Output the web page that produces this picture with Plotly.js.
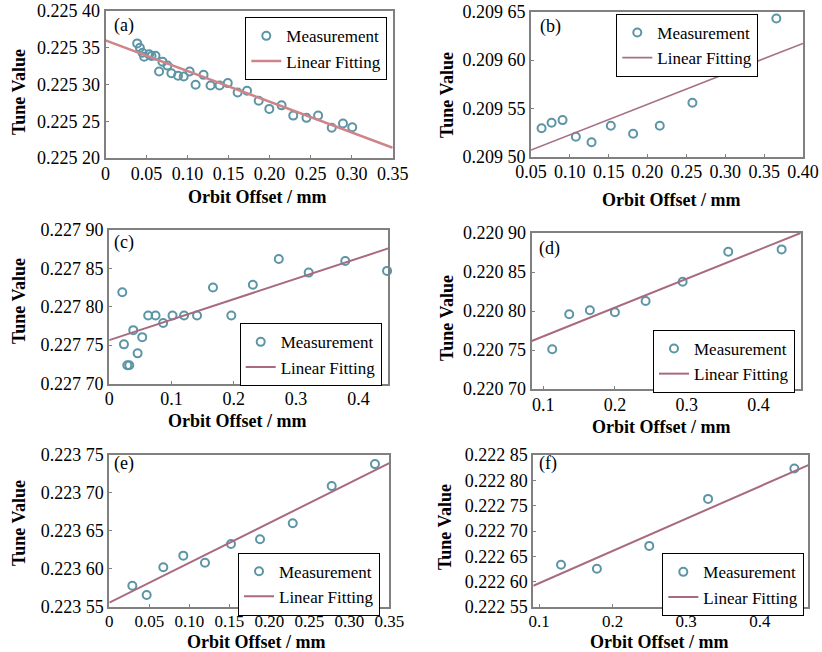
<!DOCTYPE html>
<html>
<head>
<meta charset="utf-8">
<script src="https://cdn.plot.ly/plotly-3.0.1.min.js"></script>
<style>
html,body{margin:0;padding:0;background:#fff;}
#chart{width:822px;height:652px;}
</style>
</head>
<body>
<div id="chart"></div>
<script>
// ---------- DATA ----------
// (a)
const aX = [0.0386,0.0419,0.0451,0.0471,0.0532,0.0561,0.0609,0.0653,0.0694,0.0755,0.0803,0.0884,0.0953,0.1025,0.1098,0.1195,0.1280,0.1390,0.1490,0.1610,0.1725,0.1867,0.1996,0.2146,0.2288,0.2449,0.2591,0.2757,0.2894,0.3007];
const aY = [0.2253559,0.2253500,0.2253432,0.2253378,0.2253410,0.2253388,0.2253392,0.2253176,0.2253311,0.2253257,0.2253154,0.2253118,0.2253108,0.2253176,0.2252996,0.2253131,0.2252986,0.2252986,0.2253019,0.2252892,0.2252915,0.2252780,0.2252668,0.2252716,0.2252577,0.2252546,0.2252577,0.2252411,0.2252469,0.2252419];
const aFitX = [0, 0.35];
const aFitY = [0.2253600, 0.2252140];
// (b)
const bX = [0.0636,0.0765,0.0906,0.1077,0.1279,0.1527,0.1814,0.2157,0.2577,0.3069,0.3657];
const bY = [0.2095293,0.2095350,0.2095378,0.2095206,0.2095148,0.2095320,0.2095237,0.2095320,0.2095557,0.2095906,0.2096430];
const bFitX = [0.05, 0.40];
const bFitY = [0.2095068, 0.2096172];
// (c)
const cX = [0.0210,0.0237,0.0290,0.0322,0.0386,0.0456,0.0530,0.0626,0.0744,0.0866,0.1016,0.1202,0.1410,0.1666,0.1960,0.2306,0.2722,0.3202,0.3789,0.4460];
const cY = [0.2278190,0.2277510,0.2277238,0.2277238,0.2277695,0.2277393,0.2277604,0.2277885,0.2277885,0.2277789,0.2277885,0.2277885,0.2277885,0.2278251,0.2277885,0.2278286,0.2278622,0.2278445,0.2278596,0.2278467];
const cFitX = [0, 0.448];
const cFitY = [0.2277565, 0.2278760];
// (d)
const dX = [0.1126,0.1363,0.1651,0.2000,0.2428,0.2944,0.3580,0.4324];
const dY = [0.2207509,0.2207958,0.2208009,0.2207983,0.2208128,0.2208376,0.2208760,0.2208790];
const dFitX = [0.084, 0.459];
const dFitY = [0.2207615, 0.2209000];
// (e)
const eX = [0.0288,0.0467,0.0675,0.0925,0.1196,0.1521,0.1884,0.2293,0.2780,0.3321];
const eY = [0.2235777,0.2235654,0.2236020,0.2236173,0.2236080,0.2236327,0.2236389,0.2236600,0.2237092,0.2237380];
const eFitX = [0, 0.35];
const eFitY = [0.2235553, 0.2237392];
// (f)
const fX = [0.1297,0.1785,0.2497,0.3297,0.4470];
const fY = [0.2226334,0.2226254,0.2226706,0.2227634,0.2228234];
const fFitX = [0.092, 0.466];
const fFitY = [0.2225920, 0.2228300];

// tick labels
const aYTickVals = [0.22520,0.22525,0.22530,0.22535,0.22540];
const aYTickText = ['0.225 20','0.225 25','0.225 30','0.225 35','0.225 40'];
const aXTickVals = [0,0.05,0.10,0.15,0.20,0.25,0.30,0.35];
const aXTickText = ['0','0.05','0.10','0.15','0.20','0.25','0.30','0.35'];
const bYTickVals = [0.20950,0.20955,0.20960,0.20965];
const bYTickText = ['0.209 50','0.209 55','0.209 60','0.209 65'];
const bXTickVals = [0.05,0.10,0.15,0.20,0.25,0.30,0.35,0.40];
const bXTickText = ['0.05','0.10','0.15','0.20','0.25','0.30','0.35','0.40'];
const cYTickVals = [0.22770,0.22775,0.22780,0.22785,0.22790];
const cYTickText = ['0.227 70','0.227 75','0.227 80','0.227 85','0.227 90'];
const cXTickVals = [0,0.1,0.2,0.3,0.4];
const cXTickText = ['0','0.1','0.2','0.3','0.4'];
const dYTickVals = [0.22070,0.22075,0.22080,0.22085,0.22090];
const dYTickText = ['0.220 70','0.220 75','0.220 80','0.220 85','0.220 90'];
const dXTickVals = [0.1,0.2,0.3,0.4];
const dXTickText = ['0.1','0.2','0.3','0.4'];
const eYTickVals = [0.22355,0.22360,0.22365,0.22370,0.22375];
const eYTickText = ['0.223 55','0.223 60','0.223 65','0.223 70','0.223 75'];
const eXTickVals = [0,0.05,0.10,0.15,0.20,0.25,0.30,0.35];
const eXTickText = ['0','0.05','0.10','0.15','0.20','0.25','0.30','0.35'];
const fYTickVals = [0.22255,0.22260,0.22265,0.22270,0.22275,0.22280,0.22285];
const fYTickText = ['0.222 55','0.222 60','0.222 65','0.222 70','0.222 75','0.222 80','0.222 85'];
const fXTickVals = [0.1,0.2,0.3,0.4];
const fXTickText = ['0.1','0.2','0.3','0.4'];

const panelLabels = ['(a)','(b)','(c)','(d)','(e)','(f)'];
const seriesNames = ['Measurement','Linear Fitting'];
const xTitle = 'Orbit Offset / mm';
const yTitle = 'Tune Value';

// ---------- LAYOUT CONFIG ----------
const W = 822, H = 652;
const FONT = 'Liberation Serif';
const panels = [
  {x:aX,y:aY,fx:aFitX,fy:aFitY,xr:[0,0.35],yr:[0.22520,0.22540],xtv:aXTickVals,xtt:aXTickText,ytv:aYTickVals,ytt:aYTickText,
   box:[105.5,11,392.7,158], leg:[387.3,17.3], lab:[112,25], lc:'#cf8489', lw:2.5, xt:[257,197], yt:[19,92], xfs:18},
  {x:bX,y:bY,fx:bFitX,fy:bFitY,xr:[0.05,0.40],yr:[0.20950,0.20965],xtv:bXTickVals,xtt:bXTickText,ytv:bYTickVals,ytt:bYTickText,
   box:[531,11.7,803,156.6], leg:[758.3,14], lab:[538,27], lc:'#a66f85', lw:1.6, xt:[671,200], yt:[447,95], xfs:18},
  {x:cX,y:cY,fx:cFitX,fy:cFitY,xr:[0,0.448],yr:[0.22770,0.22790],xtv:cXTickVals,xtt:cXTickText,ytv:cYTickVals,ytt:cYTickText,
   box:[109.2,230,388.3,383.5], leg:[381.7,323.3], lab:[112,243], lc:'#a86a7e', lw:2, xt:[237,421], yt:[19,301], xfs:18},
  {x:dX,y:dY,fx:dFitX,fy:dFitY,xr:[0.084,0.459],yr:[0.22070,0.22090],xtv:dXTickVals,xtt:dXTickText,ytv:dYTickVals,ytt:dYTickText,
   box:[531.7,233,800.7,389], leg:[795,330], lab:[537,248], lc:'#a86a7e', lw:2, xt:[661,427], yt:[447,318], xfs:18},
  {x:eX,y:eY,fx:eFitX,fy:eFitY,xr:[0,0.35],yr:[0.22355,0.22375],xtv:eXTickVals,xtt:eXTickText,ytv:eYTickVals,ytt:eYTickText,
   box:[109.3,455,389.3,606.7], leg:[380,552.7], lab:[112,463], lc:'#a86a7e', lw:2, xt:[256,642], yt:[19,523], xfs:17},
  {x:fX,y:fY,fx:fFitX,fy:fFitY,xr:[0.092,0.466],yr:[0.22255,0.22285],xtv:fXTickVals,xtt:fXTickText,ytv:fYTickVals,ytt:fYTickText,
   box:[533.3,455,808.3,607], leg:[804.3,553.3], lab:[537,463], lc:'#a86a7e', lw:2, xt:[659,642], yt:[445,527], xfs:17}
];

const MCOL = '#5b95a6';
const traces = [];
const layout = {
  width: W, height: H,
  margin: {l:0,r:0,t:0,b:0},
  paper_bgcolor: '#fff', plot_bgcolor: '#fff',
  font: {family: FONT, size: 18, color: '#000'},
  showlegend: true,
  annotations: []
};

panels.forEach((p, i) => {
  const n = i + 1;
  const xa = 'x' + (n === 1 ? '' : n);
  const ya = 'y' + (n === 1 ? '' : n);
  const legKey = n === 1 ? 'legend' : 'legend' + n;
  traces.push({
    type: 'scatter', mode: 'markers', x: p.x, y: p.y, xaxis: xa, yaxis: ya,
    name: seriesNames[0], legend: legKey,
    marker: {symbol: 'circle-open', size: 8, color: MCOL, line: {width: 2, color: MCOL}},
    cliponaxis: false
  });
  traces.push({
    type: 'scatter', mode: 'lines', x: p.fx, y: p.fy, xaxis: xa, yaxis: ya,
    name: seriesNames[1], legend: legKey,
    line: {color: p.lc, width: p.lw}
  });
  const [x0, y0, x1, y1] = p.box;
  const axCommon = {
    showline: true, mirror: true, linecolor: '#808080', linewidth: 2,
    ticks: 'inside', ticklen: 3, tickcolor: '#808080', tickwidth: 1,
    showgrid: false, zeroline: false, fixedrange: true
  };
  layout['xaxis' + (n === 1 ? '' : n)] = Object.assign({}, axCommon, {
    domain: [x0 / W, x1 / W], anchor: ya, range: p.xr,
    tickmode: 'array', tickvals: p.xtv, ticktext: p.xtt,
    ticklabelstandoff: -2,
    tickfont: {family: FONT, size: p.xfs, color: '#000'}
  });
  layout['yaxis' + (n === 1 ? '' : n)] = Object.assign({}, axCommon, {
    domain: [1 - y1 / H, 1 - y0 / H], anchor: xa, range: p.yr,
    tickmode: 'array', tickvals: p.ytv, ticktext: p.ytt,
    tickfont: {family: FONT, size: 18, color: '#000'}
  });
  layout[legKey] = {
    x: p.leg[0] / W, y: 1 - p.leg[1] / H, xanchor: 'right', yanchor: 'top',
    bgcolor: '#fff', bordercolor: '#000', borderwidth: 1,
    font: {family: FONT, size: 17, color: '#000'},
    tracegroupgap: 0, itemwidth: 30
  };
  layout.annotations.push({
    text: panelLabels[i], xref: 'paper', yref: 'paper',
    x: p.lab[0] / W, y: 1 - p.lab[1] / H, xanchor: 'left', yanchor: 'middle',
    showarrow: false, font: {family: FONT, size: 18, color: '#000'}
  });
  layout.annotations.push({
    text: '<b>' + xTitle + '</b>', xref: 'paper', yref: 'paper',
    x: p.xt[0] / W, y: 1 - p.xt[1] / H, xanchor: 'center', yanchor: 'middle',
    showarrow: false, font: {family: FONT, size: 18, color: '#000'}
  });
  layout.annotations.push({
    text: '<b>' + yTitle + '</b>', xref: 'paper', yref: 'paper', textangle: -90,
    x: p.yt[0] / W, y: 1 - p.yt[1] / H, xanchor: 'center', yanchor: 'middle',
    showarrow: false, font: {family: FONT, size: 18, color: '#000'}
  });
});

Plotly.newPlot('chart', traces, layout, {staticPlot: true, displayModeBar: false});
</script>
</body>
</html>
